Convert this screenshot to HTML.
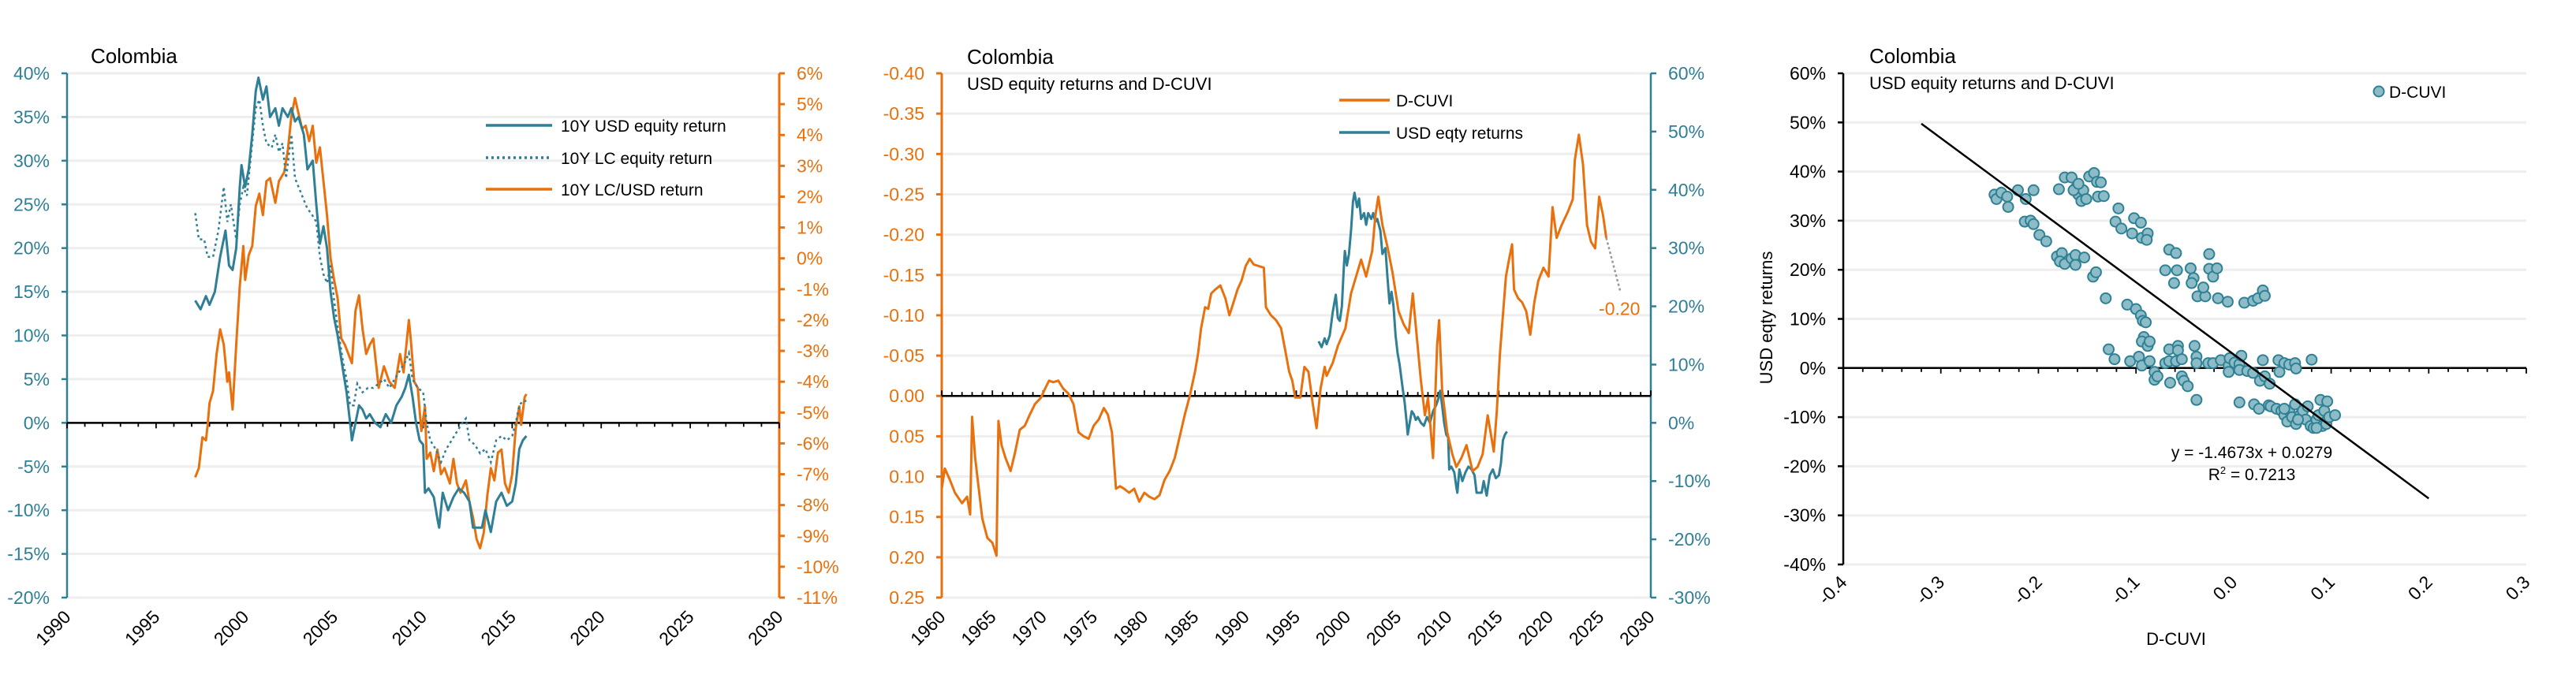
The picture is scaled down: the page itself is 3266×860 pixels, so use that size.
<!DOCTYPE html>
<html><head><meta charset="utf-8"><title>Colombia charts</title>
<style>
html,body{margin:0;padding:0;background:#fff;overflow:hidden;}
svg{display:block;}
text{font-family:"Liberation Sans",sans-serif;}
</style></head>
<body>
<svg id="root" width="3266" height="860" viewBox="0 0 3266 860" xmlns="http://www.w3.org/2000/svg"></svg>
<script>
// ---------- DATA: chart 1 ----------
const usdYears=[1997.2,1997.5,1997.8,1998.0,1998.3,1998.6,1998.9,1999.1,1999.3,1999.5,1999.7,1999.8,2000.0,2000.2,2000.4,2000.6,2000.75,2001.0,2001.2,2001.4,2001.7,2001.9,2002.1,2002.4,2002.6,2002.8,2003.0,2003.3,2003.5,2003.8,2004.0,2004.2,2004.4,2004.6,2004.8,2005.0,2005.2,2005.5,2005.7,2005.9,2006.0,2006.2,2006.4,2006.6,2006.8,2007.0,2007.3,2007.6,2007.9,2008.2,2008.5,2008.8,2009.0,2009.2,2009.4,2009.6,2009.8,2010.0,2010.1,2010.3,2010.6,2010.8,2010.9,2011.1,2011.4,2011.7,2012.0,2012.3,2012.6,2012.8,2013.0,2013.3,2013.5,2013.8,2014.1,2014.4,2014.7,2015.0,2015.2,2015.4,2015.6,2015.8];
const usdVals=[14,13,14.5,13.5,15,19,22,18,17.5,20,27,29.5,27,29,33,38,39.5,37,38.5,35,36,34,36,35,36,34.5,35,33,29,30,25,20.5,22.5,20,15,12,10,6,3.5,0,-2,0,2,1.5,0.5,1,0,-0.5,1,0,2,3,4,5.5,3,0,-2,-2.5,-8,-7.5,-8.5,-11,-12,-8,-10,-8.5,-7.5,-8,-9,-12,-12,-12,-10,-12.5,-9,-8,-9.5,-9,-7,-3,-2,-1.5];
const lcYears=[1997.2,1997.4,1997.7,1997.9,1998.2,1998.5,1998.8,1999.0,1999.2,1999.5,1999.7,1999.9,2000.1,2000.3,2000.6,2000.8,2001.0,2001.2,2001.5,2001.7,2001.9,2002.1,2002.3,2002.6,2002.8,2003.0,2003.2,2003.5,2003.7,2004.0,2004.2,2004.4,2004.6,2004.8,2005.0,2005.2,2005.5,2005.7,2005.9,2006.1,2006.3,2006.6,2006.9,2007.2,2007.5,2007.8,2008.1,2008.4,2008.7,2009.0,2009.2,2009.4,2009.7,2010.0,2010.2,2010.4,2010.7,2011.0,2011.3,2011.6,2011.9,2012.2,2012.4,2012.6,2012.9,2013.2,2013.5,2013.8,2014.1,2014.4,2014.7,2015.0,2015.2,2015.4,2015.6,2015.8];
const lcVals=[24,21,21,19,19,22,27,23,25,21,25,27,26,30,36,37,34,32,31.5,33,31,32,28,33,28,27,26,24.5,24,23,19,17,16,18,14,11,7,5,2,2,4.5,3.5,4,4,4.5,5,4,5,6,7,8,5,4,3.5,0,-2,-3,-4.5,-3,-2,-1,0,0.5,-2,-2.5,-3.5,-3,-4.5,-2,-1.5,-2,-1.5,0,2,2.5,2.5];
const fxYears=[1997.2,1997.4,1997.6,1997.8,1997.9,1998.0,1998.2,1998.4,1998.6,1998.8,1999.0,1999.1,1999.3,1999.5,1999.7,1999.9,2000.0,2000.2,2000.4,2000.6,2000.8,2001.0,2001.2,2001.4,2001.7,2001.9,2002.2,2002.4,2002.6,2002.8,2003.0,2003.2,2003.4,2003.6,2003.8,2004.0,2004.2,2004.4,2004.6,2004.8,2005.0,2005.2,2005.4,2005.6,2005.8,2006.0,2006.2,2006.4,2006.6,2006.8,2007.0,2007.2,2007.5,2007.8,2008.1,2008.4,2008.7,2008.9,2009.2,2009.3,2009.5,2009.7,2009.9,2010.1,2010.2,2010.4,2010.6,2010.8,2011.0,2011.2,2011.5,2011.7,2011.9,2012.1,2012.4,2012.6,2012.8,2013.0,2013.2,2013.4,2013.6,2013.8,2014.0,2014.2,2014.4,2014.6,2014.8,2015.0,2015.2,2015.4,2015.5,2015.7,2015.8];
const fxVals=[-7.1,-6.8,-5.8,-5.9,-5.4,-4.7,-4.3,-3.1,-2.3,-2.8,-4.0,-3.7,-4.9,-2.8,-0.9,0.4,-0.7,0.1,0.4,1.7,2.1,1.4,2.5,2.6,1.8,2.5,2.8,3.5,4.6,5.2,4.7,4.2,4.3,3.8,4.3,3.1,3.6,2.5,1.4,0,-0.7,-1.3,-2.6,-2.8,-3.1,-3.4,-1.7,-1.2,-2.3,-3.1,-2.8,-2.6,-4.2,-3.5,-4.0,-4.2,-3.1,-3.7,-2.0,-2.6,-4.0,-4.2,-5.6,-4.8,-6.5,-6.3,-6.9,-6.2,-7.0,-6.8,-7.3,-6.5,-7.3,-7.6,-7.2,-7.9,-8.4,-9.1,-9.4,-8.9,-7.7,-6.8,-7.2,-6.3,-6.2,-7.3,-7.6,-7.0,-5.5,-4.8,-5.4,-4.5,-4.4];
const c1LeftTicks=[40,35,30,25,20,15,10,5,0,-5,-10,-15,-20];
const c1RightTicks=[6,5,4,3,2,1,0,-1,-2,-3,-4,-5,-6,-7,-8,-9,-10,-11];
const c1XTicks=[1990,1995,2000,2005,2010,2015,2020,2025,2030];
// ---------- DATA: chart 2 ----------
const dcuviYears=[1960.0,1960.3,1960.8,1961.3,1962.0,1962.5,1962.8,1963.0,1963.3,1963.6,1964.0,1964.5,1965.0,1965.4,1965.6,1965.9,1966.3,1966.8,1967.2,1967.7,1968.2,1968.7,1969.2,1969.8,1970.2,1970.6,1971.0,1971.5,1972.0,1972.5,1973.0,1973.5,1974.0,1974.5,1975.0,1975.5,1976.0,1976.4,1976.8,1977.2,1977.6,1978.0,1978.5,1979.0,1979.5,1980.0,1980.5,1981.0,1981.5,1982.0,1982.5,1983.0,1983.5,1984.0,1984.5,1985.0,1985.3,1985.6,1986.0,1986.3,1986.6,1987.0,1987.5,1988.0,1988.4,1988.8,1989.2,1989.6,1990.0,1990.4,1990.8,1991.3,1991.8,1992.0,1992.5,1993.0,1993.5,1993.9,1994.3,1994.6,1994.9,1995.4,1995.8,1996.2,1996.6,1997.0,1997.4,1997.8,1998.0,1998.6,1999.1,1999.85,2000.4,2000.9,2001.4,2001.9,2002.5,2002.8,2003.1,2003.5,2004.0,2004.5,2005.1,2005.6,2006.1,2006.5,2006.9,2007.3,2007.7,2008.0,2008.5,2008.9,2009.1,2009.4,2009.9,2010.4,2010.8,2011.3,2011.8,2012.4,2012.9,2013.4,2013.9,2014.5,2014.8,2015.1,2015.3,2015.7,2016.0,2016.3,2016.5,2016.9,2017.3,2017.7,2018.1,2018.5,2018.9,2019.4,2019.9,2020.3,2020.7,2021.2,2021.8,2022.3,2022.5,2022.9,2023.3,2023.7,2024.1,2024.5,2024.9,2025.3,2025.6];
const dcuviVals=[0.115,0.09,0.104,0.12,0.133,0.125,0.147,0.026,0.077,0.109,0.152,0.176,0.182,0.198,0.031,0.061,0.077,0.093,0.072,0.042,0.037,0.023,0.01,0.002,-0.009,-0.019,-0.017,-0.019,-0.009,-0.003,0.01,0.045,0.05,0.053,0.037,0.029,0.015,0.023,0.045,0.115,0.112,0.115,0.12,0.115,0.131,0.12,0.125,0.128,0.123,0.104,0.093,0.077,0.05,0.023,-0.001,-0.03,-0.052,-0.084,-0.11,-0.108,-0.127,-0.132,-0.137,-0.121,-0.1,-0.116,-0.132,-0.143,-0.161,-0.17,-0.163,-0.161,-0.159,-0.11,-0.1,-0.094,-0.084,-0.057,-0.03,-0.019,0.002,0.002,-0.036,-0.03,0.007,0.04,-0.009,-0.036,-0.025,-0.041,-0.062,-0.084,-0.127,-0.148,-0.169,-0.148,-0.180,-0.223,-0.247,-0.212,-0.185,-0.153,-0.105,-0.089,-0.078,-0.127,-0.073,-0.019,0.024,0.002,0.077,-0.062,-0.094,-0.008,0.045,0.072,0.088,0.077,0.061,0.093,0.088,0.072,0.024,0.069,0.018,-0.051,-0.084,-0.148,-0.169,-0.188,-0.132,-0.121,-0.116,-0.105,-0.076,-0.116,-0.143,-0.159,-0.148,-0.234,-0.196,-0.212,-0.228,-0.244,-0.293,-0.324,-0.287,-0.212,-0.191,-0.183,-0.247,-0.223,-0.196];
const projYears=[2025.6,2027.0];
const projVals=[-0.196,-0.129];
const projLabel="-0.20";
const c2LeftTicks=[-0.40,-0.35,-0.30,-0.25,-0.20,-0.15,-0.10,-0.05,0.00,0.05,0.10,0.15,0.20,0.25];
const c2RightTicks=[60,50,40,30,20,10,0,-10,-20,-30];
const c2XTicks=[1960,1965,1970,1975,1980,1985,1990,1995,2000,2005,2010,2015,2020,2025,2030];
// ---------- DATA: chart 3 ----------
const scatX=[-0.245,-0.243,-0.238,-0.232,-0.231,-0.221,-0.213,-0.205,-0.214,-0.208,-0.205,-0.199,-0.192,-0.181,-0.176,-0.178,-0.173,-0.166,-0.162,-0.162,-0.153,-0.144,-0.141,-0.131,-0.179,-0.173,-0.166,-0.162,-0.159,-0.156,-0.154,-0.151,-0.148,-0.143,-0.140,-0.136,-0.139,-0.133,-0.164,-0.159,-0.118,-0.121,-0.115,-0.102,-0.104,-0.095,-0.094,-0.088,-0.089,-0.066,-0.059,-0.070,-0.058,-0.061,-0.044,-0.041,-0.043,-0.037,-0.029,-0.025,-0.025,-0.021,-0.017,-0.031,-0.016,-0.006,0.011,0.020,0.025,0.030,0.032,-0.109,-0.100,-0.095,-0.093,-0.090,-0.092,-0.094,-0.088,-0.086,-0.128,-0.122,-0.106,-0.097,-0.094,-0.086,-0.081,-0.081,-0.078,-0.070,-0.066,-0.066,-0.057,-0.057,-0.059,-0.053,-0.065,-0.053,-0.051,-0.047,-0.038,-0.040,-0.038,-0.038,-0.026,-0.021,-0.013,-0.005,-0.004,0.001,0.006,0.008,-0.005,0.006,0.014,0.020,0.027,0.032,0.037,0.030,0.046,0.047,0.052,0.057,0.063,0.064,0.080,0.006,0.021,0.026,0.036,0.038,0.044,0.049,0.052,0.055,0.057,0.060,0.063,0.064,0.068,0.071,0.074,0.076,0.079,0.082,0.085,0.087,0.089,0.091,0.093,0.095,0.096,0.098,0.104,0.052,0.066,0.085];
const scatY=[35.3,34.4,35.7,34.9,32.8,36.2,34.4,36.2,29.8,30,29.3,27.1,25.8,22.7,23.4,21.7,21.2,22.3,23,21,22.5,18.6,19.5,14.2,36.4,38.8,38.8,36.6,35.3,34,36.2,34.4,39,39.7,37.9,37.8,34.9,35,36.2,37.5,32.5,29.8,28.4,30.5,27.4,29.6,26.5,27.4,26.1,24.1,23.4,19.9,19.9,17.3,20.3,18.3,17.3,14.6,14.6,23.2,20.2,18.6,20.3,16.4,14.2,13.5,13.3,13.7,14.2,15.8,14.7,12.9,12,10.7,9.6,9.3,6.3,5.4,4.5,5.4,3.8,1.8,1.4,2.3,0.5,1.4,-0.8,-2.4,-1.7,1,1.4,3.8,4.5,3.6,1.4,1.8,-3,-1.7,-2.6,-3.7,-6.5,4.5,2.3,1,1,1,1.6,0.5,2,1.1,0.8,2.5,-0.8,-0.4,-0.6,-1,-2.6,-1.7,-3.2,1.6,1.6,-0.8,1,0.7,1,-0.1,1.7,-7,-7.4,-8.3,-7.6,-7.8,-8.3,-8.7,-9.6,-10.9,-8.7,-10,-7.4,-11.4,-9.6,-8.7,-10.5,-7.8,-11.8,-12.2,-10.5,-9.6,-6.5,-11.8,-8.7,-11.4,-6.8,-10,-9.6,-8.3,-10.5,-12.2];
const trendCoef=[-1.4673,0.0279];
const trendRange=[-0.32,0.2];
const c3YTicks=[60,50,40,30,20,10,0,-10,-20,-30,-40];
const c3XTicks=[-0.4,-0.3,-0.2,-0.1,0.0,0.1,0.2,0.3];

// ---------- drawing ----------
const NS="http://www.w3.org/2000/svg";
const root=document.getElementById('root');
const TEAL="#2f7f96", ORANGE="#e8710e", GRID="#eeeeee";
const FS=23;
function mk(tag,attrs,parent){const e=document.createElementNS(NS,tag);for(const k in attrs)e.setAttribute(k,attrs[k]);(parent||root).appendChild(e);return e;}
function lin(d0,d1,r0,r1){return v=>r0+(v-d0)/(d1-d0)*(r1-r0);}
function pathD(xs,ys,fx,fy){return xs.map((x,i)=>(i?'L':'M')+fx(x).toFixed(1)+','+fy(ys[i]).toFixed(1)).join('');}
function txt(g,x,y,s,opts){const t=mk('text',Object.assign({x:x,y:y},opts||{}),g);t.textContent=s;return t;}

// ===== Chart 1 =====
(function(){
  const g=mk('g',{});
  
  
  const L=85,R=988,T=93,B=758;
  const x=lin(1990,2030,L,R), yl=lin(40,-20,T,B), yr=lin(6,-11,T,B);
  c1LeftTicks.forEach(v=>{const l=mk('line',{x1:L,x2:R,y1:yl(v),y2:yl(v),stroke:GRID,'stroke-width':3},g);});
  const la=mk('line',{x1:L,x2:L,y1:T,y2:B,stroke:TEAL,'stroke-width':2.5},g);
  const ra=mk('line',{x1:R,x2:R,y1:T,y2:B,stroke:ORANGE,'stroke-width':3},g);
  c1LeftTicks.forEach(v=>{mk('line',{x1:L-7,x2:L,y1:yl(v),y2:yl(v),stroke:TEAL,'stroke-width':2.5},g);
    const t=txt(g,L-22,yl(v)+8,v+'%',{'text-anchor':'end','font-size':FS,fill:TEAL});});
  c1RightTicks.forEach(v=>{mk('line',{x1:R,x2:R+7,y1:yr(v),y2:yr(v),stroke:ORANGE,'stroke-width':3},g);
    const t=txt(g,R+22,yr(v)+8,v+'%',{'font-size':FS,fill:ORANGE});});
  const z=yl(0);
  const zl=mk('line',{x1:L,x2:R,y1:z,y2:z,stroke:'#000','stroke-width':2.5},g);
  for(let yy=1990;yy<=2030;yy++){mk('line',{x1:x(yy),x2:x(yy),y1:z,y2:z+(yy%5==0?7:5),stroke:'#000','stroke-width':1.8},g);}
  c1XTicks.forEach(v=>{const t=txt(g,0,0,String(v),{'text-anchor':'end','font-size':FS,fill:'#000',transform:`translate(${x(v)+6},${B+26}) rotate(-45)`});});
  const p1=mk('path',{d:pathD(fxYears,fxVals,x,yr),fill:'none',stroke:ORANGE,'stroke-width':3,'stroke-linejoin':'round'},g);
  const p2=mk('path',{d:pathD(lcYears,lcVals,x,yl),fill:'none',stroke:TEAL,'stroke-width':2.5,'stroke-dasharray':'3 4'},g);
  const p3=mk('path',{d:pathD(usdYears,usdVals,x,yl),fill:'none',stroke:TEAL,'stroke-width':3,'stroke-linejoin':'round'},g);
  const ti=txt(g,115,80,'Colombia',{'font-size':26,fill:'#000'});
  const leg=[['10Y USD equity return',TEAL,null,159],['10Y LC equity return',TEAL,'3 4',200],['10Y LC/USD return',ORANGE,null,240]];
  leg.forEach(a=>{const e=mk('line',{x1:616,x2:700,y1:a[3],y2:a[3],stroke:a[1],'stroke-width':3.5},g);if(a[2])e.setAttribute('stroke-dasharray',a[2]);
    const t=txt(g,711,a[3]+8,a[0],{'font-size':21,fill:'#000'});});
})();

// ===== Chart 2 =====
(function(){
  const g=mk('g',{});
  
  
  const L=1194,R=2093,T=93,B=758;
  const x=lin(1960,2030,L,R), yl=lin(-0.40,0.25,T,B), yr=lin(60,-30,T,B);
  c2LeftTicks.forEach(v=>{const l=mk('line',{x1:L,x2:R,y1:yl(v),y2:yl(v),stroke:GRID,'stroke-width':3},g);});
  const la=mk('line',{x1:L,x2:L,y1:T,y2:B,stroke:ORANGE,'stroke-width':3},g);
  const ra=mk('line',{x1:R,x2:R,y1:T,y2:B,stroke:TEAL,'stroke-width':2.5},g);
  c2LeftTicks.forEach(v=>{mk('line',{x1:L-7,x2:L,y1:yl(v),y2:yl(v),stroke:ORANGE,'stroke-width':3},g);
    const t=txt(g,L-22,yl(v)+8,v.toFixed(2),{'text-anchor':'end','font-size':FS,fill:ORANGE});});
  c2RightTicks.forEach(v=>{mk('line',{x1:R,x2:R+7,y1:yr(v),y2:yr(v),stroke:TEAL,'stroke-width':2.5},g);
    const t=txt(g,R+22,yr(v)+8,v+'%',{'font-size':FS,fill:TEAL});});
  const z=yl(0);
  const zl=mk('line',{x1:L,x2:R,y1:z,y2:z,stroke:'#000','stroke-width':2.5},g);
  for(let yy=1960;yy<=2030;yy++){mk('line',{x1:x(yy),x2:x(yy),y1:z,y2:z-(yy%5==0?7:5),stroke:'#000','stroke-width':1.8},g);}
  c2XTicks.forEach(v=>{const t=txt(g,0,0,String(v),{'text-anchor':'end','font-size':FS,fill:'#000',transform:`translate(${x(v)+6},${B+26}) rotate(-45)`});});
  const pr=mk('path',{d:pathD(projYears,projVals,x,yl),fill:'none',stroke:'#999','stroke-width':2.5,'stroke-dasharray':'3 3'},g);
  const pl=txt(g,x(projYears[1])+25,yl(projVals[1])+29,projLabel,{'text-anchor':'end','font-size':FS,fill:ORANGE});
  const p2=mk('path',{d:pathD(usdYears,usdVals,x,yr),fill:'none',stroke:TEAL,'stroke-width':3,'stroke-linejoin':'round'},g);
  const p1=mk('path',{d:pathD(dcuviYears,dcuviVals,x,yl),fill:'none',stroke:ORANGE,'stroke-width':3,'stroke-linejoin':'round'},g);
  const ti=txt(g,1226,81,'Colombia',{'font-size':26,fill:'#000'});
  const st=txt(g,1226,114,'USD equity returns and D-CUVI',{'font-size':22,fill:'#000'});
  [['D-CUVI',ORANGE,127],['USD eqty returns',TEAL,168]].forEach(a=>{const e=mk('line',{x1:1698,x2:1762,y1:a[2],y2:a[2],stroke:a[1],'stroke-width':3.5},g);
    const t=txt(g,1770,a[2]+8,a[0],{'font-size':21,fill:'#000'});});
})();

// ===== Chart 3 =====
(function(){
  const g=mk('g',{});
  
  
  const L=2337,R=3203,T=93,B=716;
  const x=lin(-0.4,0.3,L,R), y=lin(60,-40,T,B);
  c3YTicks.forEach(v=>{const l=mk('line',{x1:L,x2:R,y1:y(v),y2:y(v),stroke:GRID,'stroke-width':3},g);});
  const la=mk('line',{x1:L,x2:L,y1:T,y2:B,stroke:'#000','stroke-width':2.5},g);
  c3YTicks.forEach(v=>{mk('line',{x1:L-7,x2:L,y1:y(v),y2:y(v),stroke:'#000','stroke-width':2.5},g);
    const t=txt(g,L-22,y(v)+8,v+'%',{'text-anchor':'end','font-size':FS,fill:'#000'});});
  const z=y(0);
  const zl=mk('line',{x1:L,x2:R,y1:z,y2:z,stroke:'#000','stroke-width':2.5},g);
  for(let i=0;i<=35;i++){const xv=-0.4+i*0.02;mk('line',{x1:x(xv),x2:x(xv),y1:z,y2:z+(i%5==0?7:5),stroke:'#000','stroke-width':1.8},g);}
  c3XTicks.forEach(v=>{const t=txt(g,0,0,v.toFixed(1),{'text-anchor':'end','font-size':FS,fill:'#000',transform:`translate(${x(v)+6},${B+24}) rotate(-45)`});});
  scatX.forEach((xv,i)=>{const c=mk('circle',{cx:x(xv),cy:y(scatY[i]),r:6.5,fill:'#8dbcc6',stroke:'#2f8196','stroke-width':2},g);
    
    });
  const tx0=trendRange[0],tx1=trendRange[1];
  const tl=mk('line',{x1:x(tx0),y1:y((trendCoef[0]*tx0+trendCoef[1])*100),x2:x(tx1),y2:y((trendCoef[0]*tx1+trendCoef[1])*100),stroke:'#000','stroke-width':2.5},g);
  
  const eq=txt(g,2855,581,'y = -1.4673x + 0.0279',{'text-anchor':'middle','font-size':21,fill:'#000'});
  const r2=mk('text',{x:2855,y:609,'text-anchor':'middle','font-size':21,fill:'#000'},g);
  r2.innerHTML='R<tspan dy="-8" font-size="13">2</tspan><tspan dy="8"> = 0.7213</tspan>';
  const ti=txt(g,2370,80,'Colombia',{'font-size':26,fill:'#000'});
  const st=txt(g,2370,113,'USD equity returns and D-CUVI',{'font-size':22,fill:'#000'});
  const lm=mk('circle',{cx:3016,cy:116,r:6.5,fill:'#8dbcc6',stroke:'#2f8196','stroke-width':2},g);
  const lt=txt(g,3029,124,'D-CUVI',{'font-size':21,fill:'#000'});
  const yt=txt(g,0,0,'USD eqty returns',{'text-anchor':'middle','font-size':22,fill:'#000',transform:'translate(2247,403) rotate(-90)'});
  const xt=txt(g,2759,818,'D-CUVI',{'text-anchor':'middle','font-size':22,fill:'#000'});
})();
</script>
</body></html>
